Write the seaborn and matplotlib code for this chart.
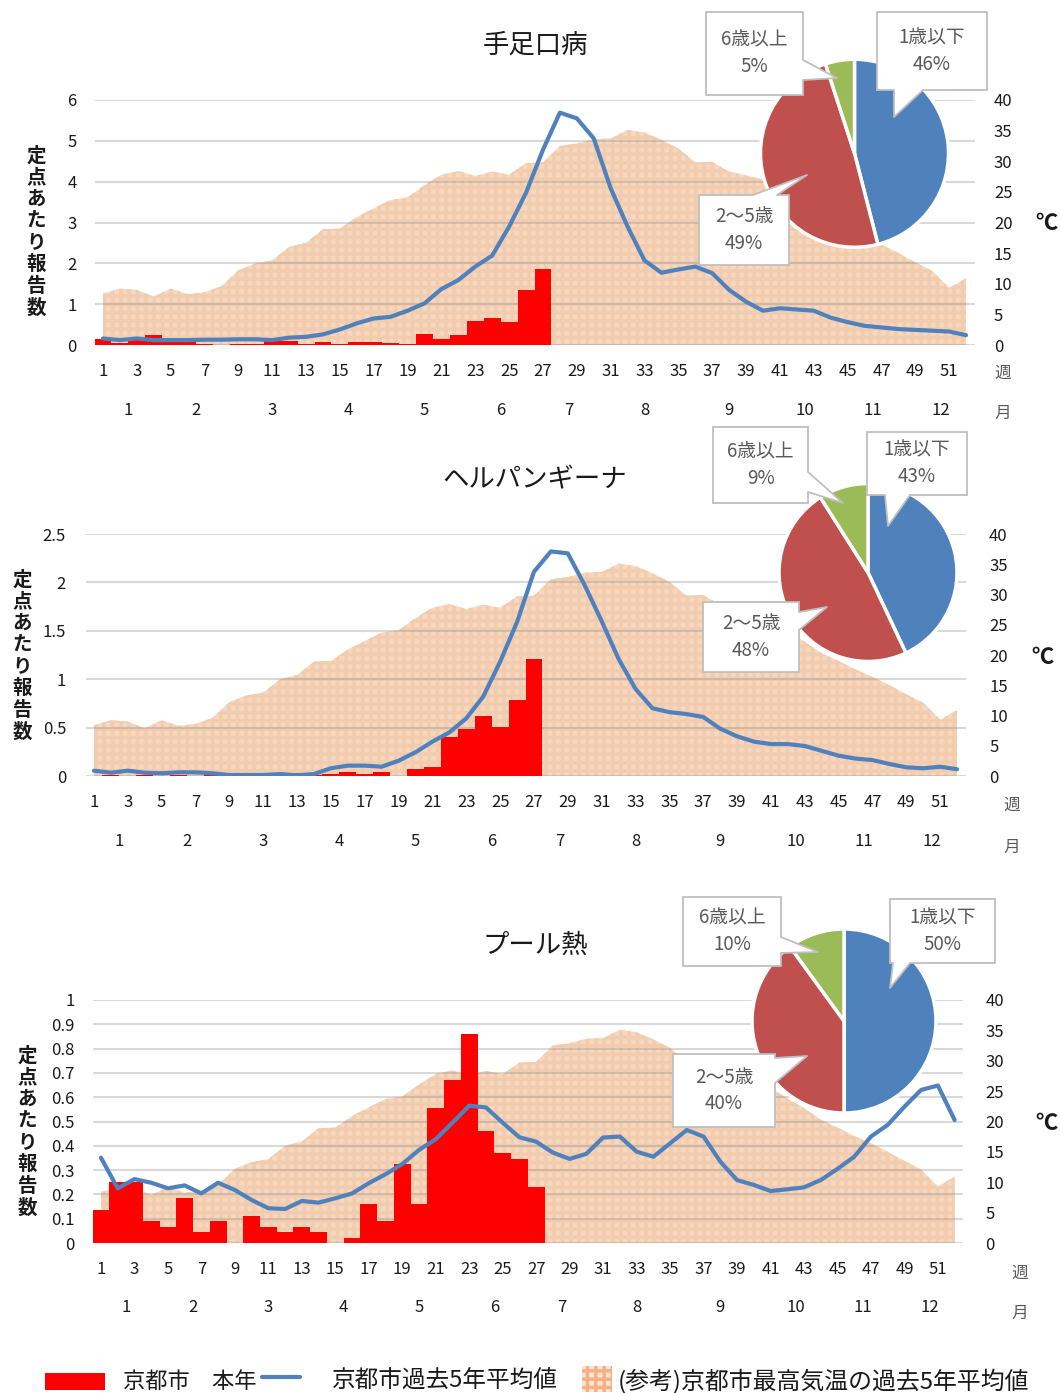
import seaborn as sns
import matplotlib.pyplot as plt
from matplotlib.patches import Rectangle, Polygon
from matplotlib.lines import Line2D
from matplotlib.ticker import FormatStrFormatter
from matplotlib.transforms import blended_transform_factory

W, H = 1060, 1393

weeks = list(range(1, 53))
month_weeks = [4, 4, 5, 4, 5, 4, 4, 5, 5, 4, 4, 4]
age_labels = ['1歳以下', '2～5歳', '6歳以上']

# (参考)京都市最高気温の過去5年平均値 (℃)
temp_max = [8.4, 9.2, 9.0, 7.9, 9.2, 8.3, 8.6, 9.6, 12.2, 13.3, 13.8, 16.0, 16.7,
            18.9, 19.0, 20.9, 22.3, 23.7, 24.1, 26.1, 27.8, 28.4, 27.6, 28.3, 27.8,
            29.7, 29.8, 32.5, 32.9, 33.6, 33.7, 35.1, 34.7, 33.5, 32.1, 29.8, 29.9,
            28.3, 27.7, 27.0, 25.6, 23.8, 22.2, 20.3, 19.0, 17.6, 16.4, 15.0, 13.5,
            12.1, 9.3, 10.9]

# 手足口病
hfmd_now = [0.15, 0.05, 0.13, 0.24, 0.10, 0.09, 0.02, 0.0, 0.02, 0.02, 0.09, 0.10,
            0.02, 0.08, 0.02, 0.08, 0.08, 0.05, 0.02, 0.27, 0.15, 0.24, 0.60, 0.66,
            0.57, 1.34, 1.85]
hfmd_avg = [0.16, 0.12, 0.16, 0.12, 0.12, 0.12, 0.13, 0.13, 0.14, 0.14, 0.12, 0.18,
            0.20, 0.26, 0.38, 0.53, 0.65, 0.69, 0.84, 1.02, 1.37, 1.59, 1.92, 2.19,
            2.90, 3.73, 4.78, 5.69, 5.55, 5.06, 3.84, 2.90, 2.07, 1.77, 1.85, 1.92,
            1.76, 1.35, 1.06, 0.84, 0.90, 0.87, 0.84, 0.67, 0.56, 0.47, 0.43, 0.39,
            0.37, 0.35, 0.33, 0.24]
hfmd_ages = [46, 49, 5]

# ヘルパンギーナ
herp_now = [0.0, 0.01, 0.0, 0.01, 0.0, 0.01, 0.0, 0.01, 0.0, 0.0, 0.0, 0.01, 0.03,
            0.01, 0.02, 0.045, 0.02, 0.045, 0.0, 0.07, 0.093, 0.40, 0.49, 0.62, 0.51,
            0.785, 1.205]
herp_avg = [0.055, 0.034, 0.055, 0.034, 0.028, 0.038, 0.038, 0.028, 0.01, 0.01, 0.01,
            0.02, 0.007, 0.02, 0.08, 0.107, 0.107, 0.096, 0.158, 0.245, 0.355, 0.45,
            0.596, 0.82, 1.18, 1.59, 2.11, 2.32, 2.30, 1.97, 1.60, 1.21, 0.90, 0.70,
            0.66, 0.64, 0.61, 0.49, 0.41, 0.355, 0.33, 0.33, 0.31, 0.26, 0.21, 0.18,
            0.165, 0.124, 0.09, 0.08, 0.096, 0.07]
herp_ages = [43, 48, 9]

# プール熱
pcf_now = [0.137, 0.25, 0.25, 0.09, 0.067, 0.184, 0.044, 0.09, 0.0, 0.112, 0.067,
           0.044, 0.067, 0.044, 0.0, 0.022, 0.159, 0.09, 0.324, 0.159, 0.556, 0.671,
           0.859, 0.462, 0.369, 0.346, 0.229]
pcf_avg = [0.351, 0.225, 0.263, 0.248, 0.225, 0.237, 0.204, 0.248, 0.218, 0.177,
           0.143, 0.14, 0.173, 0.166, 0.184, 0.204, 0.246, 0.283, 0.325, 0.383, 0.427,
           0.495, 0.565, 0.558, 0.495, 0.435, 0.417, 0.372, 0.346, 0.367, 0.434,
           0.438, 0.376, 0.355, 0.41, 0.465, 0.438, 0.335, 0.259, 0.239, 0.214, 0.221,
           0.229, 0.259, 0.305, 0.355, 0.438, 0.486, 0.561, 0.63, 0.648, 0.506]
pcf_ages = [50, 40, 10]

RED = '#FF0000'
BLUE = '#4F81BD'
PIE_COLORS = ['#4F81BD', '#C0504D', '#9BBB59']
AREA = '#F7D8BE'
AREA_HATCH = '#F2CCAE'
BOX_EDGE = '#BFBFBF'


def fx(x):
    return x / W


def fy(y):
    return 1 - y / H


def px(p):
    return (fx(p[0]), fy(p[1]))


def draw_callout(fig, text, box, size, side, base, tip):
    # white label box with a pointer towards the pie wedge (pixel coords from top)
    cx, cy = box
    w, h = size
    fig.add_artist(Rectangle((fx(cx - w / 2), fy(cy + h / 2)), w / W, h / H,
                             transform=fig.transFigure, fc='white', ec=BOX_EDGE,
                             lw=1.3, zorder=5))
    if side == 'b':
        b0, b1 = (base[0], cy + h / 2), (base[1], cy + h / 2)
        i0, i1 = (base[0], cy + h / 2 - 3), (base[1], cy + h / 2 - 3)
    elif side == 't':
        b0, b1 = (base[0], cy - h / 2), (base[1], cy - h / 2)
        i0, i1 = (base[0], cy - h / 2 + 3), (base[1], cy - h / 2 + 3)
    else:
        b0, b1 = (cx + w / 2, base[0]), (cx + w / 2, base[1])
        i0, i1 = (cx + w / 2 - 3, base[0]), (cx + w / 2 - 3, base[1])
    fig.add_artist(Polygon([px(i0), px(b0), px(tip), px(b1), px(i1)], closed=True,
                           transform=fig.transFigure, fc='white', ec='none',
                           zorder=6))
    fig.add_artist(Line2D([fx(b0[0]), fx(tip[0]), fx(b1[0])],
                          [fy(b0[1]), fy(tip[1]), fy(b1[1])],
                          transform=fig.transFigure, color=BOX_EDGE, lw=1.3,
                          zorder=7))
    fig.text(fx(cx), fy(cy), text, ha='center', va='center', fontsize=13.5,
             color='#595959', linespacing=1.35, zorder=8)


def draw_panel(fig, data, lay):
    left, top, right, bottom = lay['box']
    ax = fig.add_axes([fx(left), fy(bottom), (right - left) / W, (bottom - top) / H])
    ax_t = ax.twinx()
    ax_t.set_zorder(0)
    ax.set_zorder(1)
    ax.patch.set_visible(False)

    # temperature area on the right axis
    ax_t.fill_between(weeks, 0, temp_max, facecolor=AREA, edgecolor=AREA_HATCH,
                      hatch='++', linewidth=0)
    ax_t.set_ylim(0, 40)
    ax_t.set_yticks(range(0, 41, 5))
    ax_t.tick_params(axis='y', length=0, labelsize=12, pad=lay['rpad'])

    sns.barplot(x=weeks[:len(data['now'])], y=data['now'], native_scale=True,
                width=1.0, color=RED, saturation=1, errorbar=None, linewidth=0, ax=ax)
    sns.lineplot(x=weeks, y=data['avg'], color=BLUE, linewidth=3,
                 solid_capstyle='round', ax=ax)

    ax.set_xlim(0.5, 52.5)
    ax.set_ylim(0, data['ymax'])
    ax.set_yticks(data['yticks'])
    ax.yaxis.set_major_formatter(FormatStrFormatter('%g'))
    ax.set_xticks(range(1, 52, 2))
    ax.tick_params(axis='y', length=0, labelsize=12, pad=lay['lpad'])
    ax.tick_params(axis='x', length=0, labelsize=12, pad=13)
    ax.set_xlabel('')
    ax.set_ylabel('')
    ax.set_axisbelow(True)
    ax.yaxis.grid(True, color='#929292', alpha=0.35, linewidth=1.5)
    for a in (ax, ax_t):
        for s in a.spines.values():
            s.set_visible(False)

    # month labels under the week numbers
    trans = blended_transform_factory(ax.transData, fig.transFigure)
    start = 1
    for m, n in enumerate(month_weeks, 1):
        ax.text(start + (n - 1) / 2, fy(bottom + 65), str(m), transform=trans,
                ha='center', va='center', fontsize=12)
        start += n

    fig.text(fx(535), fy(lay['title_y']), data['title'], ha='center', va='center',
             fontsize=19)
    for i, ch in enumerate('定点あたり報告数'):
        fig.text(fx(lay['ylab'][0]), fy(lay['ylab'][1] + (i - 3.5) * 21.7), ch,
                 ha='center', va='center', fontsize=14, fontweight='bold')
    fig.text(*px(lay['deg']), '℃', ha='center', va='center', fontsize=16,
             fontweight='bold')
    fig.text(*px(lay['week']), '週', ha='center', va='center', fontsize=12,
             color='#595959')
    fig.text(*px(lay['month']), '月', ha='center', va='center', fontsize=12,
             color='#595959')

    # age breakdown pie
    cx, cy, r = lay['pie']
    rr = r * 1.05
    ax_p = fig.add_axes([fx(cx - rr), fy(cy + rr), 2 * rr / W, 2 * rr / H])
    ax_p.set_zorder(2)
    ax_p.pie(data['ages'], colors=PIE_COLORS, startangle=90, counterclock=False,
             wedgeprops=dict(edgecolor='white', linewidth=2.5))
    ax_p.set_xlim(-1.05, 1.05)
    ax_p.set_ylim(-1.05, 1.05)
    total = sum(data['ages'])
    for label, val, spec in zip(age_labels, data['ages'], lay['callouts']):
        draw_callout(fig, f'{label}\n{round(val / total * 100)}%', *spec)


def main():
    sns.set_theme(style='white')
    plt.rcParams['font.family'] = ['Noto Sans CJK JP', 'DejaVu Sans']
    plt.rcParams['hatch.linewidth'] = 2.5
    plt.rcParams['text.color'] = '#1a1a1a'
    plt.rcParams['xtick.color'] = '#1a1a1a'
    plt.rcParams['ytick.color'] = '#1a1a1a'

    fig = plt.figure(figsize=(W / 100, H / 100), dpi=100)

    datasets = [
        dict(title='手足口病', now=hfmd_now, avg=hfmd_avg, ages=hfmd_ages,
             ymax=6, yticks=list(range(0, 7))),
        dict(title='ヘルパンギーナ', now=herp_now, avg=herp_avg, ages=herp_ages,
             ymax=2.5, yticks=[0, 0.5, 1, 1.5, 2, 2.5]),
        dict(title='プール熱', now=pcf_now, avg=pcf_avg, ages=pcf_ages,
             ymax=1, yticks=[i / 10 for i in range(11)]),
    ]
    # callout: box centre, box size, pointer side, pointer base, pointer tip
    layouts = [
        dict(box=(94.5, 100, 974.5, 345), title_y=45, ylab=(36, 232), lpad=13,
             rpad=14, deg=(1046, 224), week=(1003, 373), month=(1003, 413),
             pie=(854.5, 153.3, 94),
             callouts=[((932, 51), (110, 78), 'b', (894, 923), (894, 117)),
                       ((744, 230), (90, 70), 't', (753, 777), (807, 175)),
                       ((754.5, 53.5), (97, 83), 'r', (60, 80), (837, 78))]),
        dict(box=(85.5, 534, 965.5, 776), title_y=480, ylab=(22, 656), lpad=14,
             rpad=17, deg=(1043, 657), week=(1012, 805), month=(1012, 847),
             pie=(868, 572.5, 89),
             callouts=[((917, 463.5), (100, 63), 'b', (885, 910), (888, 526)),
                       ((751, 637), (96, 70), 'r', (612, 630), (827, 607)),
                       ((760.5, 465), (95, 76), 'r', (472, 492), (843, 503))]),
        dict(box=(92.6, 1000, 963, 1243), title_y=945, ylab=(27, 1132), lpad=13,
             rpad=16, deg=(1047, 1123), week=(1020, 1273), month=(1020, 1313),
             pie=(844, 1021, 92),
             callouts=[((942.5, 931), (105, 64), 'b', (893, 910), (890, 988)),
                       ((724, 1090.5), (102, 73), 'r', (1058, 1083), (807, 1056)),
                       ((732, 931.5), (98, 69), 'r', (937, 953), (818, 952))]),
    ]
    for data, lay in zip(datasets, layouts):
        draw_panel(fig, data, lay)

    # legend strip
    fig.add_artist(Rectangle((fx(45), fy(1390)), 60 / W, 17 / H,
                             transform=fig.transFigure, fc=RED, ec='none'))
    fig.text(fx(123), fy(1381), '京都市　本年', va='center', fontsize=16)
    fig.add_artist(Line2D([fx(262), fx(300)], [fy(1377), fy(1377)],
                          transform=fig.transFigure, color=BLUE, linewidth=3))
    fig.text(fx(332), fy(1381), '京都市過去5年平均値', va='center', fontsize=17)
    fig.add_artist(Rectangle((fx(582), fy(1392)), 30 / W, 26 / H,
                             transform=fig.transFigure, fc='#FBE5D6',
                             ec='#F4B183', hatch='++', linewidth=0))
    fig.text(fx(618), fy(1381), '(参考)京都市最高気温の過去5年平均値', va='center',
             fontsize=17.2)

    fig.savefig('out.png', dpi=100)


if __name__ == '__main__':
    main()
